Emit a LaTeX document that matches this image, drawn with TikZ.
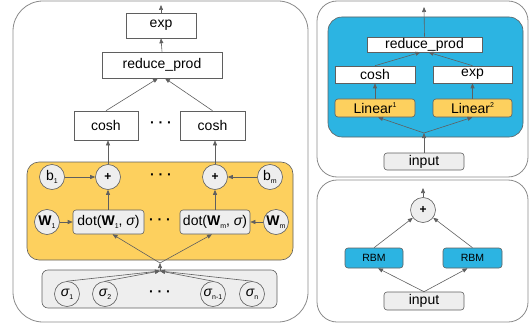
\documentclass[tikz,border=0pt]{standalone}
\usepackage{fontspec}
\setmainfont{Liberation Sans}
\usepackage{tikz}
\usetikzlibrary{calc,arrows.meta,positioning}
\definecolor{linec}{HTML}{5F5F5F}
\definecolor{framec}{HTML}{8A8A8A}
\definecolor{yelc}{HTML}{FDD05E}
\definecolor{bluec}{HTML}{2CB4E2}
\definecolor{greyc}{HTML}{EEEEEE}
\newcommand{\lsub}[1]{\raisebox{-0.45ex}{\fontsize{7}{7}\selectfont #1}}
\newcommand{\lsup}[1]{\raisebox{0.9ex}{\fontsize{7}{7}\selectfont #1}}
\newcommand{\sig}{{\itshape σ}}
\tikzset{
  ar/.style={-{Triangle[length=5pt,width=4pt]},linec,line width=0.6pt},
  frame/.style={draw=framec,line width=0.8pt,rounded corners=30pt},
  box/.style={draw=linec,fill=white,line width=0.6pt,inner sep=0pt,font=\fontsize{14}{16}\selectfont},
  gbox/.style={box,fill=greyc,rounded corners=3pt},
  ybox/.style={box,fill=yelc,rounded corners=3pt},
  bbox/.style={box,fill=bluec,rounded corners=3pt,font=\fontsize{10.5}{12}\selectfont},
  nd/.style={circle,draw=linec,fill=greyc,line width=0.6pt,minimum size=25pt,inner sep=0pt,font=\fontsize{14}{16}\selectfont},
  dts/.style={font=\fontsize{14}{16}\selectfont\bfseries}
}

\begin{document}
\begin{tikzpicture}[x=1pt,y=-1pt]
\useasboundingbox (0,0) rectangle (529,326);
% panels
\draw[frame] (13,1) rectangle (308,322);
\draw[frame,rounded corners=20pt] (317,1) rectangle (528,177);
\draw[frame,rounded corners=20pt] (317,180) rectangle (528,322);
\draw[linec,line width=0.6pt,fill=yelc,rounded corners=12pt] (27,162) rectangle (293,260);
\draw[linec,line width=0.6pt,fill=greyc,rounded corners=6pt] (42,270) rectangle (277,308);
\draw[linec,line width=0.6pt,fill=bluec,rounded corners=14pt] (328,17) rectangle (523,137);

% left panel
\node[box,minimum width=70pt,minimum height=25pt] (exp) at (161,25.5) {exp};
\node[box,minimum width=120pt,minimum height=26pt] (rp) at (162,65) {reduce\_prod};
\node[box,minimum width=64pt,minimum height=29pt] (cosh1) at (106,125.5) {cosh};
\node[box,minimum width=65pt,minimum height=29pt] (cosh2) at (212.5,125.5) {cosh};
\node[dts] (d1) at (161,125) {· · ·};
\coordinate (top) at (161,5);

\node[nd,font=\fontsize{12}{14}\selectfont\bfseries] (plus1) at (108,177) {+};
\node[nd,font=\fontsize{12}{14}\selectfont\bfseries] (plus2) at (215,177) {+};
\node[nd] (b1) at (52,177) {b\lsub{1}};
\node[nd] (bm) at (270,177) {b\lsub{m}};
\node[dts] (d2) at (161,177) {· · ·};

\node[nd] (W1) at (47,222) {\textbf{W}\lsub{1}};
\node[nd] (Wm) at (276,222) {\textbf{W}\lsub{m}};
\node[gbox,minimum width=71pt,minimum height=24pt] (dot1) at (108.5,222) {dot(\textbf{W}\lsub{1}, \sig)};
\node[gbox,minimum width=70pt,minimum height=24pt] (dot2) at (215,222) {dot(\textbf{W}\lsub{m}, \sig)};
\node[dts] (d3) at (160,222) {· · ·};

\coordinate (hub) at (160,263);
\coordinate (sj) at (160,271);
\foreach \x/\n/\l in {67/1/1,105/2/2,213/3/n-1,252/4/n}{
  \node[nd,fill=greyc] (s\n) at (\x,294) {\sig\lsub{\l}};
  \draw[ar] (s\n.north) -- (sj);
}
\node[dts] (d4) at (160,294) {· · ·};

\draw[ar] (exp.north) -- (top);
\draw[ar] (rp.north) -- (exp.south);
\draw[ar] (cosh1.north) -- ($(rp.south)+(-4,0)$);
\draw[ar] (cosh2.north) -- ($(rp.south)+(3,0)$);
\draw[ar] (plus1.north) -- (cosh1.south -| plus1);
\draw[ar] (plus2.north) -- (cosh2.south -| plus2);
\draw[ar] (b1) -- (plus1);
\draw[ar] (bm) -- (plus2);
\draw[ar] (W1) -- (dot1);
\draw[ar] (Wm) -- (dot2);
\draw[ar] (dot1.north -| plus1) -- (plus1.south);
\draw[ar] (dot2.north -| plus2) -- (plus2.south);
\draw[ar] (sj) -- (hub);
\draw[ar] (hub) -- ($(dot1.south)+(4,0)$);
\draw[ar] (hub) -- ($(dot2.south)+(-3,0)$);

% right top panel
\node[box,minimum width=115pt,minimum height=15pt] (rp2) at (424.5,44.5) {reduce\_prod};
\node[box,minimum width=80pt,minimum height=17pt] (cosh3) at (375,74.5) {cosh};
\node[box,minimum width=79pt,minimum height=17pt] (exp2) at (472.5,74.5) {exp};
\node[ybox,minimum width=80pt,minimum height=18pt] (lin1) at (375,108) {Linear\lsup{1}};
\node[ybox,minimum width=79pt,minimum height=18pt] (lin2) at (472.5,108) {Linear\lsup{2}};
\node[gbox,minimum width=80pt,minimum height=17pt] (in1) at (424,161.5) {input};
\coordinate (top2) at (424,7);
\coordinate (hub2) at (424,133);

\draw[ar] (rp2.north) -- (top2);
\draw[ar] (cosh3.north) -- ($(rp2.south)+(-4,0)$);
\draw[ar] (exp2.north) -- ($(rp2.south)+(4,0)$);
\draw[ar] (lin1) -- (cosh3);
\draw[ar] (lin2) -- (exp2);
\draw[ar] (in1.north) -- (hub2);
\draw[ar] (hub2) -- ($(lin1.south)+(3,0)$);
\draw[ar] (hub2) -- (lin2.south);

% right bottom panel
\node[nd,font=\fontsize{12}{14}\selectfont\bfseries] (plus3) at (423,210) {+};
\node[bbox,minimum width=58pt,minimum height=20pt] (rbm1) at (374,258) {RBM};
\node[bbox,minimum width=59pt,minimum height=20pt] (rbm2) at (472.5,258) {RBM};
\node[gbox,minimum width=80pt,minimum height=18pt] (in2) at (424,301) {input};
\coordinate (top3) at (423,188);

\draw[ar] (plus3.north) -- (top3);
\draw[ar] (rbm1.north) -- (plus3);
\draw[ar] (rbm2.north) -- (plus3);
\draw[ar] (in2.north) -- ($(rbm1.south)+(4,0)$);
\draw[ar] (in2.north) -- ($(rbm2.south)+(-5,0)$);
\end{tikzpicture}
\end{document}
